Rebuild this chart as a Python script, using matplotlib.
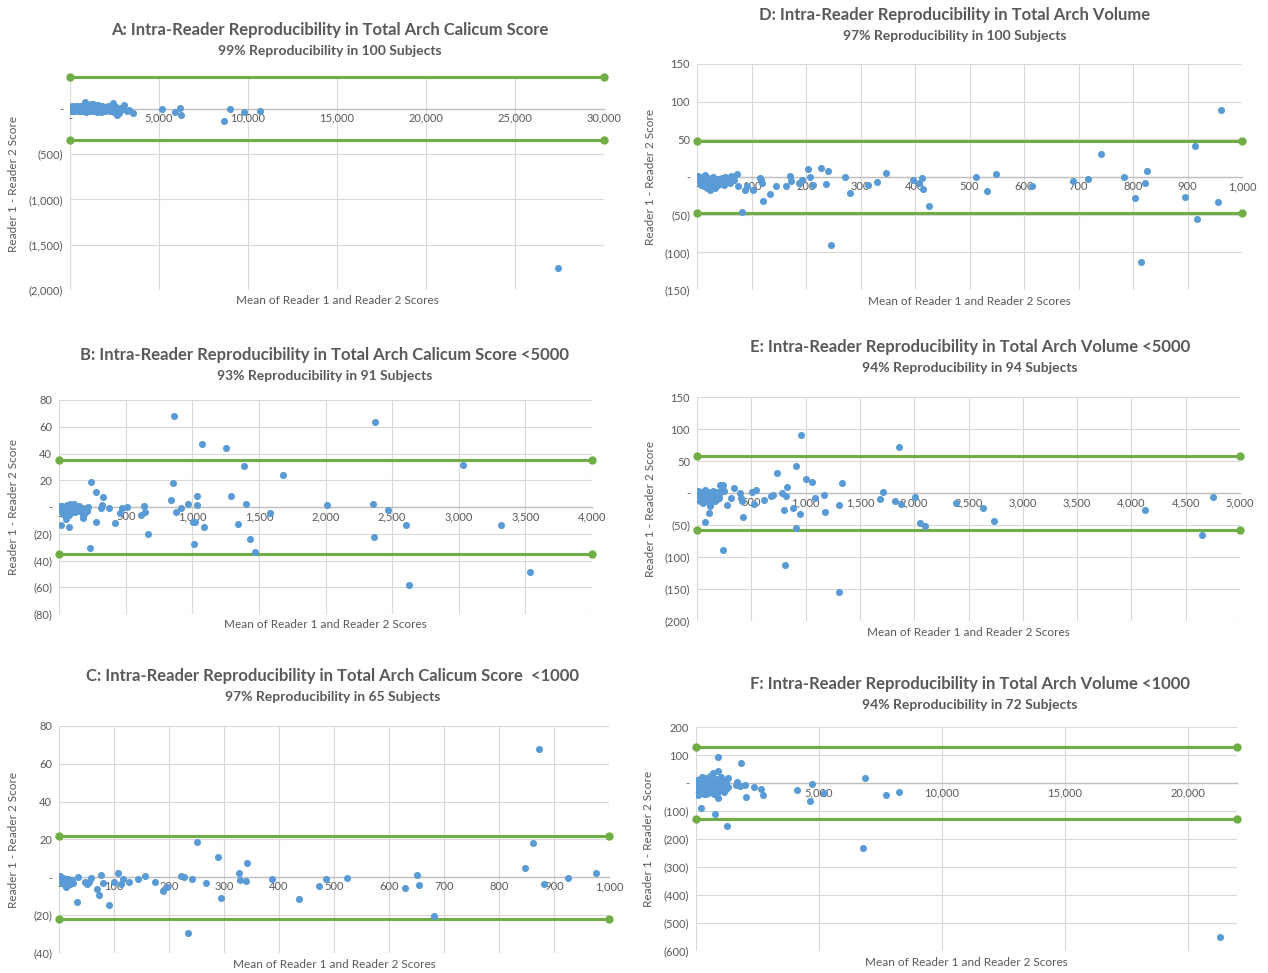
import matplotlib
matplotlib.use("Agg")
import matplotlib.pyplot as plt
from matplotlib.ticker import FuncFormatter, FixedLocator

plt.rcParams['font.family'] = ['Lato', 'DejaVu Sans']

W, H = 1268, 973
GRAY = '#595959'
BLUE = '#5B9BD5'
GREEN = '#70AD47'
GRID = '#D9D9D9'

# ---------------- data ----------------
titles = [
    "A: Intra-Reader Reproducibility in Total Arch Calicum Score",
    "B: Intra-Reader Reproducibility in Total Arch Calicum Score <5000",
    "C: Intra-Reader Reproducibility in Total Arch Calicum Score  <1000",
    "D: Intra-Reader Reproducibility in Total Arch Volume",
    "E: Intra-Reader Reproducibility in Total Arch Volume <5000",
    "F: Intra-Reader Reproducibility in Total Arch Volume <1000",
]
subtitles = [
    "99% Reproducibility in 100 Subjects",
    "93% Reproducibility in 91 Subjects",
    "97% Reproducibility in 65 Subjects",
    "97% Reproducibility in 100 Subjects",
    "94% Reproducibility in 94 Subjects",
    "94% Reproducibility in 72 Subjects",
]
x_label = "Mean of Reader 1 and Reader 2 Scores"
y_label = "Reader 1 - Reader 2 Score"

points_a = [(27420, -1755), (10660, -26), (9800, -33), (8990, 0), (8630, -130), (6230, -67),
            (6160, 7), (5900, -37), (5180, -7), (3550, -44), (3330, -15), (3060, 37), (2630, -67),
            (2490, -33), (2400, 67), (840, 74),
            (60, -5), (100, 10), (150, -15), (200, 3), (250, -20), (300, 12), (350, -8), (400, 20),
            (450, -25), (500, 5), (550, -10), (600, 15), (650, -3), (700, 30), (750, -12), (800, 8),
            (900, -18), (950, 45), (1000, -5), (1050, 22), (1100, -30), (1150, 10), (1200, 50),
            (1250, -8), (1300, 28), (1350, -20), (1400, 15), (1450, 40), (1500, -35), (1550, 5),
            (1600, 25), (1650, -15), (1700, 10), (1750, -40), (1800, 30), (1850, -10), (1900, 18),
            (1950, -25), (2000, 5), (2100, 12), (2200, -5), (2300, 20), (2350, -15), (2450, 10),
            (2500, -20), (2550, 2), (2700, -10), (2850, 8), (3000, -3), (3200, -22), (30, 15),
            (80, -20), (120, 25), (180, -30), (220, 8), (280, -12), (330, 30), (380, -5), (430, 18),
            (480, -15), (520, 35), (580, -22), (620, 10), (680, -30), (720, 20), (780, -2),
            (850, 15), (880, -35), (1020, 35), (1080, -15), (1180, -20), (1280, 55), (1380, 5),
            (1480, -10), (1580, 45), (1680, -25), (1780, 3), (1880, -8), (2050, -18), (2150, 25),
            (2250, -30), (2420, 40), (2600, 15), (2750, -45)]

points_b = [(863, 68.3), (2374, 63.6), (1071, 47.2), (1255, 44.2), (1388, 30.7), (1680, 23.6),
            (3035, 31.2), (241, 18.6), (854, 18.3), (281, 11), (332, 7.3), (1038, 8.5), (1291, 8),
            (838, 5), (1403, 2.5), (968, 2), (1032, 1.8), (2015, 1.3), (2356, 2), (2468, -2),
            (640, 1), (507, 0), (474, -0.8), (377, -0.5), (320, 1.8), (317, -0.8), (643, -4),
            (616, -6), (878, -4), (917, -0.5), (1581, -4.5), (459, -4.5), (422, -11.6), (281, -11),
            (15, -13.8), (75, -15), (235, -30.4), (670, -20.4), (1005, -11.3), (1023, -11.3),
            (1086, -15), (1011, -27.6), (1345, -12.6), (1433, -23.9), (1469, -33.9), (2362, -22.6),
            (2606, -13.3), (2627, -58), (3318, -13.8), (3538, -48.5),
            (5, -1), (10, 0.5), (15, -2), (20, -3), (25, 1), (30, -1.5), (35, -4), (40, 0),
            (45, -2.5), (50, -1), (55, -5), (60, 1.5), (65, -3), (70, -0.5), (75, -6), (80, 2),
            (85, -2), (90, -1), (95, 0.5), (100, -3.5), (105, -1), (110, 2.5), (115, -2), (120, -4),
            (125, 0), (130, -1.5), (140, -3), (150, 1), (160, -2), (170, -0.5), (180, -8.3),
            (190, -5), (200, -1), (210, -3), (220, 0), (54, -8.8), (97, 0.5), (181, -6), (12, -3),
            (28, -5.5), (63, -7)]

points_c = [(873.5, 67.7), (862, 18.2), (847, 4.7), (882, -3.5), (926, -0.5), (976, 2.3),
            (250, 18.6), (289, 10.9), (342, 7.5), (327, 2.3), (329, -1.4), (340, -1.8),
            (295, -10.9), (221, 0.7), (227, 0.2), (242, -0.9), (268, -3.2), (235, -29.6),
            (196, -4.9), (189, -7.2), (175, -2.6), (157, 0.7), (143, -0.7), (128, -2.5),
            (116, -0.9), (112, -3.7), (108, 2.3), (100, -2.6), (80, -3.2), (76, 1), (73, -9.5),
            (69, -6.1), (90, -14.6), (32, -13.3), (58, -0.4), (55, -2.3), (50, -3.3), (47, -2.5),
            (34, 0), (26, -3.2), (23, -1.2), (388, -0.7), (436, -11.2), (472, -4.4), (485, -0.7),
            (523, -0.2), (629, -5.8), (651, 1), (654, -4.2), (681, -20.2),
            (2, 0.5), (4, -1), (5, -2), (6, -3), (8, -0.5), (9, -1.5), (10, -4), (11, -2.5),
            (12, -5), (14, -1), (15, -3), (16, -0.8), (18, -2), (20, -3.5), (22, -1.5)]

points_d = [(962, 89), (913, 40.6), (742, 30.4), (825, 7.9), (822, -7.9), (783, -0.4),
            (804, -27.3), (815, -113), (895, -26), (917, -56), (956, -33.5), (717, -2.6),
            (690, -4.9), (615, -11.5), (549, 3.5), (533, -19), (512, -0.4), (426, -38.4),
            (413, -0.9), (414, -15.4), (408, -8.4), (396, -4.4), (346, 5.7), (330, -6.6),
            (313, -10.6), (281, -21), (271, -0.4), (246, -90), (240, 7.9), (228, 11.5),
            (237, -9.7), (212, -10.6), (208, 0.4), (204, 11), (193, -4.4), (188, -8.4),
            (173, -4.9), (170, 0.9), (164, -11.5), (145, -11.9), (134, -22), (122, -32),
            (119, -7.9), (117, -4), (116, -1.3), (102, -17.6), (91, -11.5), (88, -17.6),
            (83, -46), (74, 3.5), (75, -11.5), (68, -4.4),
            (2, 1), (3, -2), (4, -5), (5, 0), (6, -8), (7, -3), (8, -10), (9, -1), (10, -6),
            (11, -4), (12, -12), (13, -2), (14, -7), (15, 2), (16, -9), (17, -3), (18, -5),
            (19, -14), (20, -1), (21, -6), (22, -4), (23, -17), (24, -8), (25, -2), (26, -10),
            (27, -5), (28, -3), (29, -12), (30, 0), (31, -7), (32, -4), (33, -15), (34, -9),
            (35, -2), (36, -6), (38, -11), (40, -3), (42, -8), (44, -5), (46, -1), (48, -4),
            (50, -10), (52, 0), (54, -6), (56, -2), (58, -3), (60, -8), (62, 1)]

points_e = [(956, 91), (1856, 72), (908, 41.7), (734, 31.8), (1007, 22.4), (1059, 17.7),
            (1339, 16.1), (827, 8.9), (1712, 1.6), (1173, -3.6), (1085, -8.3), (506, 1),
            (542, 5.2), (613, -10.9), (528, -17.2), (782, 0), (697, -2.6), (683, -5.2),
            (815, -5.2), (797, -26.6), (886, -24), (948, -32.8), (911, -55), (812, -113),
            (1181, -30), (1310, -19.3), (1310, -154), (1686, -9.4), (1827, -13), (1878, -17.2),
            (2004, -6.8), (2055, -47), (2100, -51), (2384, -15.1), (2638, -23), (2734, -44.3),
            (4125, -26.6), (4653, -65), (4753, -6.8), (244, -89.6), (421, -38), (413, -13),
            (406, -7.8), (399, 0), (343, 8.3), (314, -7.8), (273, -19.3), (247, 2.6), (236, 13),
            (210, 13), (229, 6.8), (207, -7.8), (114, -31), (77, -45.8), (122, -20.8),
            (5, -2), (10, 3), (15, -8), (20, -4), (25, 0), (30, -12), (35, -6), (40, 2),
            (45, -10), (50, -3), (55, -15), (60, -1), (65, -7), (70, 4), (75, -9), (80, -5),
            (85, -13), (90, 0), (95, -4), (100, -11), (105, 2), (110, -6), (120, -2), (125, -14),
            (130, -8), (135, 1), (140, -5), (145, -10), (150, 3), (155, -3), (160, -7),
            (165, -12), (170, 0), (175, -4), (180, -9), (185, 2), (190, -6), (195, -1), (200, -3)]

points_f = [(21290, -550), (6800, -233), (6880, 16.7), (7730, -41.7), (8270, -33.3),
            (4710, -4.8), (4620, -65), (5190, -35.7), (4100, -25), (2720, -44), (2630, -22.6),
            (2350, -13), (2040, -48.8), (1990, -8.3), (1840, 71.4), (1680, 3.6), (1780, -11.9),
            (1630, -8.3), (1290, 17.9), (1260, -152), (910, 91.7), (880, 41.7), (900, -54.8),
            (780, -109.5), (690, 34.5), (1010, 21.4), (1110, -8.3), (1130, -33.3), (210, -89.3),
            (390, -38), (80, -44),
            (20, -5), (50, 10), (80, -15), (110, 3), (140, -25), (170, 15), (200, -8), (230, 20),
            (260, -30), (290, 5), (320, -12), (350, 18), (380, -3), (410, -20), (440, 8),
            (470, -35), (500, 12), (530, -6), (560, 25), (590, -18), (620, 0), (650, -28),
            (680, 10), (710, -10), (740, -40), (770, 5), (800, -22), (830, 15), (860, -5),
            (890, -32), (920, 8), (950, -15), (980, 2), (1040, -25), (1070, 12), (1150, -12),
            (1200, -20), (1230, 5), (1320, -15), (150, -2), (330, -40)]

# limits of agreement (+/-)
limits = [350, 35.5, 22, 48, 58.5, 129]

# axis scales
x_max = [30000, 4000, 1000, 1000, 5000, 22000]
x_step = [5000, 500, 100, 100, 500, 5000]
x_tick_top = [30000, 4000, 1000, 1000, 5000, 20000]
y_min = [-2000, -80, -40, -150, -200, -600]
y_max = [350, 80, 80, 150, 150, 200]
y_step = [500, 20, 20, 50, 50, 100]
y_tick_top = [0, 80, 80, 150, 150, 200]

all_points = [points_a, points_b, points_c, points_d, points_e, points_f]

# ---------------- layout (pixels) ----------------
boxes = [(70, 77, 604, 290), (59, 400, 592, 614), (59, 726, 609, 953),
         (697, 64, 1242, 290), (697, 397, 1240, 621), (696, 727, 1237, 951)]
title_pos = [(330, 30), (325, 355), (333, 676), (955, 15), (970, 347), (970, 684)]
ylabel_x = [14, 14, 14, 650, 650, 648]
xlabel_y = [300, 625, 964, 301, 632, 962]


def fmt(v, pos=None):
    if abs(v) < 1e-9:
        return '-'
    s = f"{abs(v):,.0f}"
    return f"({s})" if v < 0 else s


fig = plt.figure(figsize=(W / 100, H / 100), dpi=100)
fig.patch.set_facecolor('white')

for i in range(6):
    l, t, r, b = boxes[i]
    ax = fig.add_axes([l / W, 1 - b / H, (r - l) / W, (b - t) / H])
    ax.set_facecolor('white')
    ax.set_xlim(0, x_max[i])
    ax.set_ylim(y_min[i], y_max[i])
    xt = list(range(0, x_tick_top[i] + 1, x_step[i]))
    yt = list(range(y_min[i], y_tick_top[i] + 1, y_step[i]))
    ax.xaxis.set_major_locator(FixedLocator(xt))
    ax.yaxis.set_major_locator(FixedLocator(yt))
    ax.xaxis.set_major_formatter(FuncFormatter(fmt))
    ax.yaxis.set_major_formatter(FuncFormatter(fmt))
    for s in ['left', 'right', 'top']:
        ax.spines[s].set_visible(False)
    ax.spines['bottom'].set_position(('data', 0))
    ax.spines['bottom'].set_color('#BFBFBF')
    ax.spines['bottom'].set_linewidth(1.0)
    ax.spines['bottom'].set_zorder(1)
    ax.grid(True, color=GRID, linewidth=0.8, zorder=0)
    ax.set_axisbelow(True)
    ax.tick_params(axis='both', length=0, labelsize=8, labelcolor=GRAY, pad=5)
    ax.tick_params(axis='x', pad=3)

    pts = all_points[i]
    xs = [p[0] for p in pts]
    ys = [p[1] for p in pts]
    ax.scatter(xs, ys, s=26, color=BLUE, zorder=3, linewidths=0)

    lim = limits[i]
    for yv in (lim, -lim):
        ax.plot([0, x_max[i]], [yv, yv], color=GREEN, linewidth=2.2,
                marker='o', markersize=5, zorder=2, clip_on=False)

    cx = (l + r) / 2
    tx, ty = title_pos[i]
    fig.text(tx / W, 1 - ty / H, titles[i], ha='center', va='center',
             fontsize=12, fontweight='bold', color=GRAY)
    fig.text(tx / W, 1 - (ty + 21) / H, subtitles[i], ha='center', va='center',
             fontsize=10, fontweight='bold', color=GRAY)
    fig.text(cx / W, 1 - xlabel_y[i] / H, x_label, ha='center', va='center',
             fontsize=8.5, color=GRAY)
    fig.text(ylabel_x[i] / W, 1 - ((t + b) / 2) / H, y_label, ha='center', va='center',
             rotation=90, fontsize=8.5, color=GRAY)

fig.savefig('out.png', dpi=100, facecolor='white')
